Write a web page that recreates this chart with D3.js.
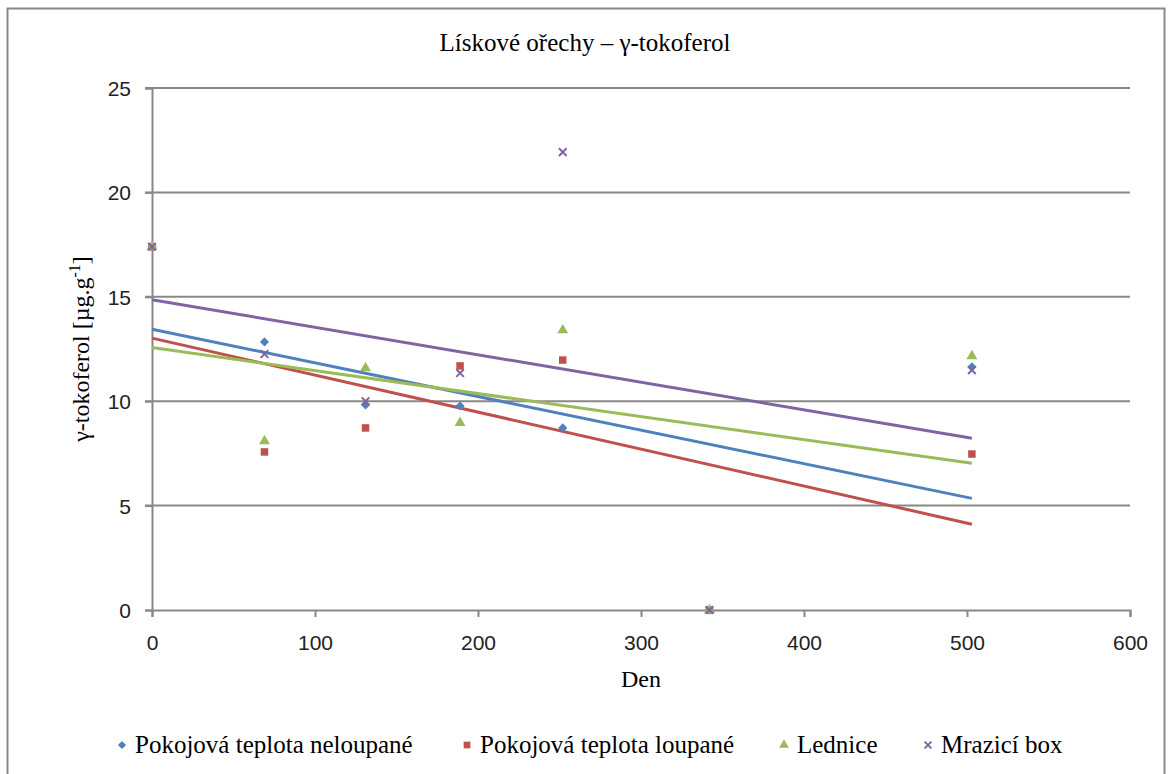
<!DOCTYPE html>
<html>
<head>
<meta charset="utf-8">
<script src="https://cdn.jsdelivr.net/npm/d3@7"></script>
<style>
  body { margin: 0; background: #fff; }
  svg text { fill: #000; }
  .serif { font-family: "Liberation Serif", "Times New Roman", serif; }
  .tick text { font-family: "Liberation Sans", Arial, sans-serif; font-size: 21px; fill: #222; }
</style>
</head>
<body>
<svg id="chart" width="1168" height="774"></svg>
<script>
// values
const days = [0, 69, 131, 189, 252, 342, 503];
const seriesNames = ["Pokojová teplota neloupané", "Pokojová teplota loupané", "Lednice", "Mrazicí box"];
const neloupane = [17.4, 12.84, 9.82, 9.77, 8.72, 0, 11.64];
const loupane = [17.4, 7.57, 8.72, 11.69, 11.97, 0, 7.47];
const lednice = [17.4, 8.09, 11.59, 8.96, 13.4, 0, 12.16];
const mrazak = [17.4, 12.26, 10.0, 11.35, 21.93, 0, 11.49];
const xTicks = [0, 100, 200, 300, 400, 500, 600];
const yTicks = [0, 5, 10, 15, 20, 25];

const colors = ["#4f81bd", "#c0504d", "#9bbb59", "#8064a2"];
// diamond = square turned 45deg, like Excel's marker
const symbols = [d3.symbolSquare, d3.symbolSquare, d3.symbolTriangle, d3.symbolX];
const rotations = [45, 0, 0, 0];
const sizes = [42, 56, 52, 40];
const allSeries = [neloupane, loupane, lednice, mrazak];

const svg = d3.select("#chart");
const margin = { left: 152, right: 38, top: 88, bottom: 164 };
const width = 1168, height = 774;

// outer frame
svg.append("rect")
  .attr("x", 7.5).attr("y", 8.5)
  .attr("width", 1157).attr("height", 780)
  .attr("fill", "none").attr("stroke", "#888").attr("stroke-width", 2);

const x = d3.scaleLinear().domain([0, 600]).range([margin.left, width - margin.right]);
const y = d3.scaleLinear().domain([0, 25]).range([height - margin.bottom, margin.top]);

// gridlines
svg.append("g")
  .selectAll("line")
  .data(yTicks.filter(d => d > 0))
  .join("line")
  .attr("x1", x(0) - 7).attr("x2", x(600))
  .attr("y1", d => y(d)).attr("y2", d => y(d))
  .attr("stroke", "#888").attr("stroke-width", 2);

// axes
const yAxis = svg.append("g")
  .attr("class", "axis")
  .attr("transform", `translate(${x(0)},0)`)
  .call(d3.axisLeft(y).tickValues(yTicks).tickSize(7).tickPadding(14));
const xAxis = svg.append("g")
  .attr("class", "axis")
  .attr("transform", `translate(0,${y(0)})`)
  .call(d3.axisBottom(x).tickValues(xTicks).tickSize(7).tickPadding(18));
[yAxis, xAxis].forEach(g => {
  g.select(".domain").attr("stroke", "#888").attr("stroke-width", 2);
  g.selectAll(".tick line").attr("stroke", "#888").attr("stroke-width", 2);
});
yAxis.selectAll(".tick text").attr("dy", "0.36em");

// linear trend lines (least squares over each series)
function fit(ys) {
  const mx = d3.mean(days), my = d3.mean(ys);
  const sxy = d3.sum(days, (d, i) => (d - mx) * (ys[i] - my));
  const sxx = d3.sum(days, d => (d - mx) * (d - mx));
  const b = sxy / sxx;
  return { a: my - b * mx, b };
}
const xMax = d3.max(days);
allSeries.forEach((vals, i) => {
  const f = fit(vals);
  svg.append("line")
    .attr("x1", x(0)).attr("y1", y(f.a))
    .attr("x2", x(xMax)).attr("y2", y(f.a + f.b * xMax))
    .attr("stroke", colors[i]).attr("stroke-width", 3);
});

// markers
allSeries.forEach((vals, i) => {
  svg.append("g")
    .selectAll("path")
    .data(vals.map((v, j) => [days[j], v]))
    .join("path")
    .attr("transform", d => `translate(${x(d[0])},${y(d[1])}) rotate(${rotations[i]})`)
    .attr("d", d3.symbol(symbols[i], sizes[i]))
    .attr("fill", i === 3 ? "none" : colors[i])
    .attr("stroke", i === 3 ? colors[i] : "none")
    .attr("stroke-width", 2);
});

// titles
svg.append("text").attr("class", "serif")
  .attr("x", 585).attr("y", 51)
  .attr("text-anchor", "middle").attr("font-size", 25)
  .text("Lískové ořechy – γ-tokoferol");

svg.append("text").attr("class", "serif")
  .attr("x", (x(0) + x(600)) / 2).attr("y", 687)
  .attr("text-anchor", "middle").attr("font-size", 24)
  .text("Den");

const yTitle = svg.append("text").attr("class", "serif")
  .attr("transform", `translate(89,${(y(0) + y(25)) / 2}) rotate(-90)`)
  .attr("text-anchor", "middle").attr("font-size", 24);
yTitle.append("tspan").text("γ-tokoferol [µg.g");
yTitle.append("tspan").attr("dy", -9).attr("font-size", 16).text("-1");
yTitle.append("tspan").attr("dy", 9).text("]");

// legend
const legendX = [122, 467, 784, 928];
const legend = svg.append("g").attr("class", "serif");
seriesNames.forEach((name, i) => {
  legend.append("path")
    .attr("transform", `translate(${legendX[i]},745) rotate(${rotations[i]})`)
    .attr("d", d3.symbol(symbols[i], sizes[i] * 0.8))
    .attr("fill", i === 3 ? "none" : colors[i])
    .attr("stroke", i === 3 ? colors[i] : "none")
    .attr("stroke-width", 2);
  legend.append("text")
    .attr("x", legendX[i] + 13).attr("y", 753)
    .attr("font-size", 25)
    .text(name);
});
</script>
</body>
</html>
